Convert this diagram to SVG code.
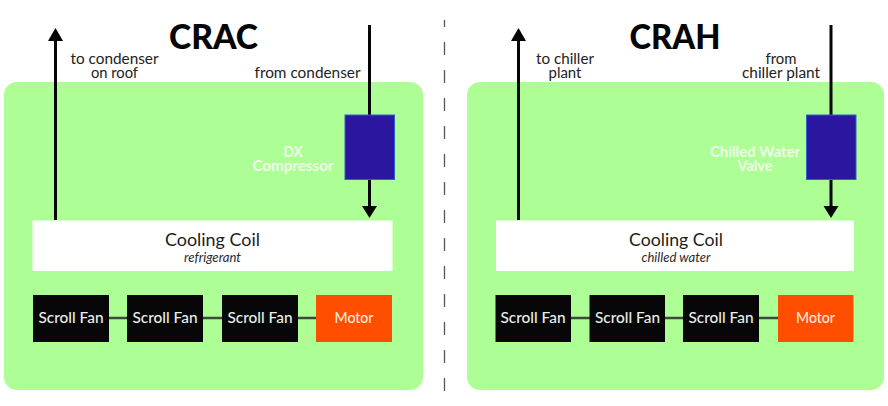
<svg xmlns="http://www.w3.org/2000/svg" width="888" height="406" viewBox="0 0 888 406">
<style>
text{font-family:"Lato","Open Sans","Liberation Sans",sans-serif;text-anchor:middle}
.panel{fill:#adfe95}
.title{font-size:35px;font-weight:900;fill:#050505}
.lab{font-size:15.500px;fill:#222}
.wlab{font-size:15px;font-weight:700;fill:#f0fde9}
.box{fill:#2a169f;stroke:#2f5fd0;stroke-width:1}
.coil{fill:#fff}
.cname{font-size:18px;fill:#1c1c1c}
.csub{font-size:13.500px;font-style:italic;fill:#2a2a2a}
.fan{fill:#070709}
.motor{fill:#ff4e00}
.ft{font-size:16px;font-weight:500;fill:#e9eee6}
.mt{font-size:16px;font-weight:500;fill:#ffe9dc}
.pipe{stroke:#050505;stroke-width:3;fill:none}
.link{stroke:#3c4a3c;stroke-width:2.5;fill:none}
.head{fill:#050505}
.div{stroke:#555;stroke-width:1.3;stroke-dasharray:13 15;stroke-dashoffset:6;fill:none}
</style>
<rect width="888" height="406" fill="#fff"/>
<g id="panel-crac"><rect class="panel" x="4" y="82" width="419" height="308" rx="13"/></g>
<g id="panel-crah"><rect class="panel" x="467" y="82" width="417" height="308" rx="13"/></g>
<g id="divider"><path class="div" d="M444.500 20V392"/></g>
<g id="connectors">
<path class="pipe" d="M55.500 220V38"/><path class="head" d="M55.500 28L63 41H48Z"/>
<path class="pipe" d="M369.500 25V208"/><path class="head" d="M369.500 218L377 206H362Z"/>
<path class="pipe" d="M518.500 220V38"/><path class="head" d="M518.500 28L526 41H511Z"/>
<path class="pipe" d="M831 25V208"/><path class="head" d="M831 218L838.500 206H823.500Z"/>
<path class="link" d="M109 318H127M203 318H222M298 318H316"/>
<path class="link" d="M571 318H590M665 318H683M759 318H778"/>
</g>
<g id="crac-title"><text class="title" x="213.500" y="49" textLength="89" lengthAdjust="spacingAndGlyphs">CRAC</text></g>
<g id="crah-title"><text class="title" x="675" y="49" textLength="91" lengthAdjust="spacingAndGlyphs">CRAH</text></g>
<g id="to-condenser"><text class="lab"><tspan x="114.500" y="64" textLength="88" lengthAdjust="spacingAndGlyphs">to condenser</tspan><tspan x="114.500" y="78" textLength="47" lengthAdjust="spacingAndGlyphs">on roof</tspan></text></g>
<g id="from-condenser"><text class="lab" x="307.500" y="78" textLength="106" lengthAdjust="spacingAndGlyphs">from condenser</text></g>
<g id="to-chiller"><text class="lab"><tspan x="565" y="64" textLength="58" lengthAdjust="spacingAndGlyphs">to chiller</tspan><tspan x="565" y="78" textLength="33" lengthAdjust="spacingAndGlyphs">plant</tspan></text></g>
<g id="from-chiller"><text class="lab"><tspan x="781" y="64" textLength="31" lengthAdjust="spacingAndGlyphs">from</tspan><tspan x="781" y="78" textLength="78" lengthAdjust="spacingAndGlyphs">chiller plant</tspan></text></g>
<g id="dx-compressor"><rect class="box" x="345" y="115" width="49.500" height="64.500"/><text class="wlab"><tspan x="293" y="157" textLength="19" lengthAdjust="spacingAndGlyphs">DX</tspan><tspan x="293" y="171" textLength="81" lengthAdjust="spacingAndGlyphs">Compressor</tspan></text></g>
<g id="chilled-water-valve"><rect class="box" x="806.500" y="115" width="49.500" height="64.500"/><text class="wlab"><tspan x="755" y="157" textLength="90" lengthAdjust="spacingAndGlyphs">Chilled Water</tspan><tspan x="755" y="171" textLength="35" lengthAdjust="spacingAndGlyphs">Valve</tspan></text></g>
<g id="coil-crac"><rect class="coil" x="32.500" y="220.500" width="360" height="50.500"/><text class="cname" x="212.500" y="245.500" textLength="95" lengthAdjust="spacingAndGlyphs">Cooling Coil</text><text class="csub" x="212.500" y="262" textLength="57" lengthAdjust="spacingAndGlyphs">refrigerant</text></g>
<g id="coil-crah"><rect class="coil" x="496" y="220.500" width="358" height="50.500"/><text class="cname" x="676" y="245.500" textLength="94" lengthAdjust="spacingAndGlyphs">Cooling Coil</text><text class="csub" x="676" y="262" textLength="69" lengthAdjust="spacingAndGlyphs">chilled water</text></g>
<g id="fan-c1"><rect class="fan" x="33" y="295" width="76" height="47"/><text class="ft" x="71" y="323" textLength="65" lengthAdjust="spacingAndGlyphs">Scroll Fan</text></g>
<g id="fan-c2"><rect class="fan" x="127" y="295" width="76" height="47"/><text class="ft" x="165" y="323" textLength="65" lengthAdjust="spacingAndGlyphs">Scroll Fan</text></g>
<g id="fan-c3"><rect class="fan" x="222" y="295" width="76" height="47"/><text class="ft" x="260" y="323" textLength="65" lengthAdjust="spacingAndGlyphs">Scroll Fan</text></g>
<g id="motor-c"><rect class="motor" x="316" y="295" width="76" height="47"/><text class="mt" x="354" y="323" textLength="39" lengthAdjust="spacingAndGlyphs">Motor</text></g>
<g id="fan-h1"><rect class="fan" x="495.500" y="295" width="75.500" height="47"/><text class="ft" x="533" y="323" textLength="65" lengthAdjust="spacingAndGlyphs">Scroll Fan</text></g>
<g id="fan-h2"><rect class="fan" x="589.500" y="295" width="75.500" height="47"/><text class="ft" x="627.500" y="323" textLength="65" lengthAdjust="spacingAndGlyphs">Scroll Fan</text></g>
<g id="fan-h3"><rect class="fan" x="683" y="295" width="76" height="47"/><text class="ft" x="721" y="323" textLength="65" lengthAdjust="spacingAndGlyphs">Scroll Fan</text></g>
<g id="motor-h"><rect class="motor" x="778" y="295" width="75.500" height="47"/><text class="mt" x="815.500" y="323" textLength="39" lengthAdjust="spacingAndGlyphs">Motor</text></g>
</svg>
